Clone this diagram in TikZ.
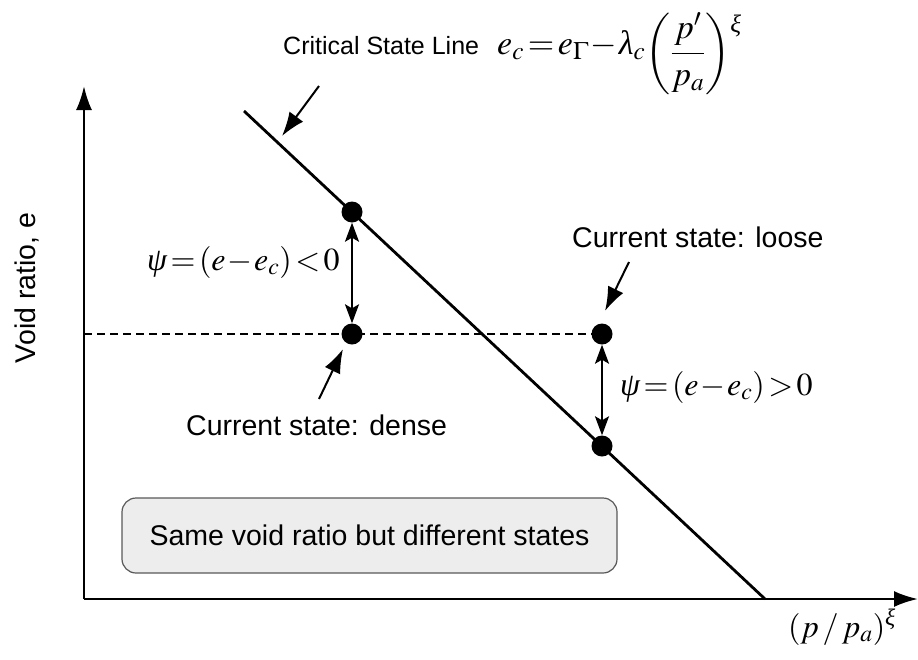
\documentclass[tikz,border=0pt]{standalone}
\usepackage{amsmath}
\usepackage{mathptmx}
\usepackage{fontspec}
\setsansfont{Liberation Sans}
\newfontfamily\tnr{Liberation Serif}
\newcommand{\gpsi}{\text{\tnr\itshape ψ}}
\newcommand{\gxi}{\text{\tnr\itshape ξ}}
\newcommand{\glam}{\text{\tnr\itshape λ}}
\newcommand{\tightm}{\thickmuskip=2mu\relax\medmuskip=1mu\relax}
\usetikzlibrary{arrows.meta}
\begin{document}
\begin{tikzpicture}[x=1pt,y=-1pt,
  axis/.style={line width=2.4pt,-{Latex[length=24pt,width=16pt]}},
  csl/.style={line width=2.8pt},
  dot/.style={circle,fill=black,inner sep=0pt,minimum size=21pt},
  pointer/.style={line width=2pt,-{Latex[length=24pt,width=17pt]}},
  dbl/.style={line width=2pt,{Stealth[length=19pt,width=14pt,inset=4pt]}-{Stealth[length=19pt,width=14pt,inset=4pt]}},
  lbl/.style={font=\fontsize{28.5}{34}\selectfont\sffamily,inner sep=0pt},
  csllbl/.style={font=\fontsize{25}{30}\selectfont\sffamily,inner sep=0pt},
  mth/.style={font=\fontsize{32}{38}\selectfont,inner sep=0pt},
  topmth/.style={font=\fontsize{34}{40}\selectfont,inner sep=0pt},
  notebox/.style={draw=black!65,line width=1.2pt,fill=black!7,rounded corners=14pt,
    minimum width=495pt,minimum height=75pt,font=\fontsize{28.5}{34}\selectfont\sffamily}
]
\useasboundingbox (0,0) rectangle (918,659);
% axes
\coordinate (origin) at (84,599);
\coordinate (ytip) at (84,86);
\coordinate (xtip) at (918,599);
\draw[axis] (origin) -- (ytip);
\draw[axis] (origin) -- (xtip);
% critical state line
\coordinate (csltop) at (244,111);
\coordinate (cslbot) at (765,599);
\draw[csl] (csltop) -- (cslbot);
% states
\node[dot] (ctop) at (352,212) {};
\node[dot] (dense) at (352,334) {};
\node[dot] (loose) at (602,334) {};
\node[dot] (cbot) at (602,446) {};
\coordinate (yleft) at (84,334);
\draw[line width=1.4pt,dash pattern=on 8pt off 5pt] (yleft) -- (loose);
\draw[dbl] (ctop) -- (dense);
\draw[dbl] (loose) -- (cbot);
% labels
\node[csllbl,anchor=base west] (csllabel) at (283,54) {Critical State Line};
\node[topmth,anchor=base west] (form) at (497,54)
  {$\tightm e_c=e_\Gamma-\glam_c\raisebox{-8pt}{$\left(\displaystyle\frac{p'}{p_a}\right)^{\text{\raisebox{-10pt}{\tnr\itshape ξ}}}$}$};
\node[mth,anchor=west] (psineg) at (147,262) {$\tightm\gpsi=(e-e_c)<0$};
\node[mth,anchor=west] (psipos) at (620,387) {$\tightm\gpsi=(e-e_c)>0$};
\node[lbl,anchor=base west] (looselbl) at (572,247) {Current state: loose};
\node[lbl,anchor=base west] (denselbl) at (186,435) {Current state: dense};
\node[notebox] (note) at (369.5,535.5) {Same void ratio but different states};
\node[lbl,rotate=90] (ylbl) at (27,288) {Void ratio, e};
\node[mth] (xlbl) at (842,627) {$(p\,/\,p_a)^{\gxi}$};
% pointers
\coordinate (p1s) at (319,86);
\coordinate (p1e) at (282,136);
\draw[pointer] (p1s) -- (p1e);
\coordinate (p2s) at (319,399);
\coordinate (p2e) at (343,349);
\draw[pointer] (p2s) -- (p2e);
\coordinate (p3s) at (629,262);
\coordinate (p3e) at (605,311);
\draw[pointer] (p3s) -- (p3e);
\end{tikzpicture}
\end{document}
